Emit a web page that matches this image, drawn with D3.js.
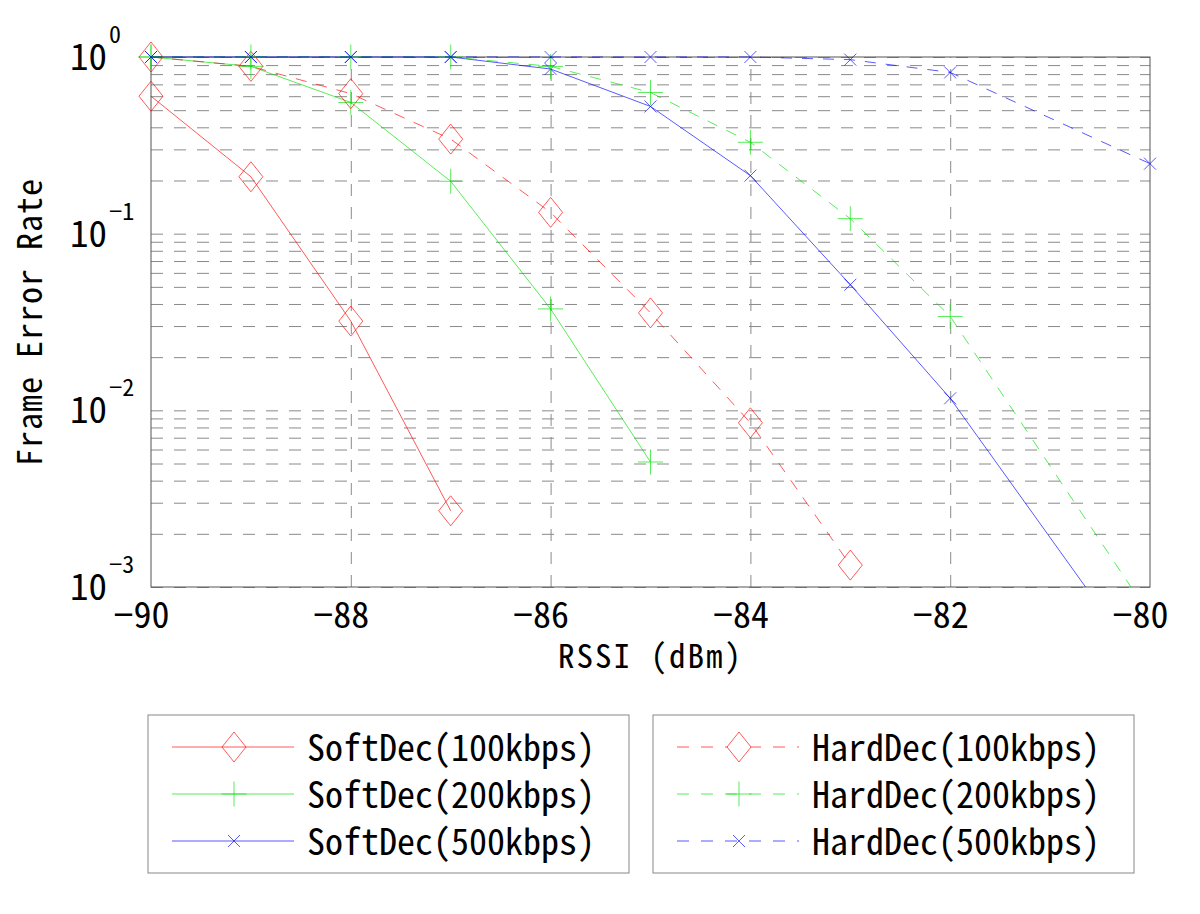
<!DOCTYPE html>
<html>
<head>
<meta charset="utf-8">
<script src="https://cdn.jsdelivr.net/npm/d3@7"></script>
<style>
  body { margin: 0; background: #fff; }
  svg text { font-family: "Noto Sans Mono CJK JP", "Noto Sans CJK JP", "DejaVu Sans", sans-serif; fill: #000; }
</style>
</head>
<body>
<svg id="chart" width="1200" height="914"></svg>
<script>
// data (FER vs RSSI)
const rssiSoft100 = [-90, -89, -88, -87]
const softDec100 = [0.6, 0.21, 0.032, 0.0027]

const rssiSoft200 = [-90, -89, -88, -87, -86, -85]
const softDec200 = [1.0, 0.885, 0.553, 0.198, 0.0375, 0.0051]

const rssiSoft500 = [-90, -89, -88, -87, -86, -85, -84, -83, -82, -80]
const softDec500 = [1.0, 1.0, 1.0, 1.0, 0.855, 0.525, 0.213, 0.0514, 0.0117, 0.00031]

const rssiHard100 = [-90, -89, -88, -87, -86, -85, -84, -83]
const hardDec100 = [1.0, 0.885, 0.62, 0.343, 0.132, 0.0356, 0.0085, 0.00133]

const rssiHard200 = [-90, -89, -88, -87, -86, -85, -84, -83, -82, -80]
const hardDec200 = [1.0, 1.0, 1.0, 1.0, 0.885, 0.63, 0.329, 0.1216, 0.034, 0.00069]

const rssiHard500 = [-90, -89, -88, -87, -86, -85, -84, -83, -82, -80]
const hardDec500 = [1.0, 1.0, 1.0, 1.0, 1.0, 1.0, 1.0, 0.966, 0.818, 0.249]

const xTicks = [-90, -88, -86, -84, -82, -80]
const yExponents = [0, -1, -2, -3]

const seriesNames = ["SoftDec(100kbps)", "SoftDec(200kbps)", "SoftDec(500kbps)",
                     "HardDec(100kbps)", "HardDec(200kbps)", "HardDec(500kbps)"]

// build series table
const colors = ["#ff0000", "#00e000", "#0000ff"]
const markers = ["diamond", "plus", "cross"]
const series = [
  { x: rssiSoft100, y: softDec100 },
  { x: rssiSoft200, y: softDec200 },
  { x: rssiSoft500, y: softDec500 },
  { x: rssiHard100, y: hardDec100 },
  { x: rssiHard200, y: hardDec200 },
  { x: rssiHard500, y: hardDec500 }
].map((s, i) => ({
  name: seriesNames[i],
  color: colors[i % 3],
  marker: markers[i % 3],
  dashed: i >= 3,
  points: s.x.map((v, j) => ({ x: v, y: s.y[j] }))
}))

const margin = { left: 151, right: 50, top: 57, bottom: 327 }
const width = 1200 - margin.left - margin.right
const height = 914 - margin.top - margin.bottom

const svg = d3.select("#chart")
const g = svg.append("g").attr("transform", `translate(${margin.left},${margin.top})`)

const x = d3.scaleLinear().domain([-90, -80]).range([0, width])
const y = d3.scaleLog().domain([1e-3, 1]).range([height, 0])

// grid
const minorVals = []
yExponents.forEach(e => { for (let k = 1; k <= 9; k++) { const v = k * Math.pow(10, e); if (v <= 1 && v >= 1e-3) minorVals.push(v) } })

g.append("g")
  .attr("class", "grid")
  .call(d3.axisLeft(y).tickValues(minorVals).tickSize(-width).tickFormat(""))
  .call(a => a.select(".domain").remove())
  .selectAll("line")
  .attr("stroke", "#8a8a8a")
  .attr("stroke-dasharray", "12,11")

g.append("g")
  .attr("class", "grid")
  .attr("transform", `translate(0,${height})`)
  .call(d3.axisBottom(x).tickValues(xTicks.slice(1, -1)).tickSize(-height).tickFormat(""))
  .call(a => a.select(".domain").remove())
  .selectAll("line")
  .attr("stroke", "#8a8a8a")
  .attr("stroke-dasharray", "12,11")

// box
g.append("rect")
  .attr("width", width).attr("height", height)
  .attr("fill", "none").attr("stroke", "#555")

// x tick labels
g.append("g")
  .attr("transform", `translate(0,${height})`)
  .call(d3.axisBottom(x).tickValues(xTicks).tickSize(0).tickFormat(d => "\u2212" + Math.abs(d)))
  .call(a => a.select(".domain").remove())
  .selectAll("text")
  .attr("y", 41).attr("dy", null).attr("dx", -10)
  .style("font-size", "36px")

// y tick labels as 10^n
const yLab = g.append("g").selectAll("g").data(yExponents).join("g")
  .attr("transform", d => `translate(0,${y(Math.pow(10, d))})`)
yLab.append("text")
  .attr("x", -44).attr("y", 13)
  .attr("text-anchor", "end")
  .style("font-size", "37px")
  .text("10")
yLab.append("text")
  .attr("x", -42).attr("y", -14)
  .style("font-size", "24px")
  .text(d => d === 0 ? "0" : "\u2212" + Math.abs(d))

// axis titles
svg.append("text")
  .attr("x", margin.left + width / 2).attr("y", 668)
  .attr("text-anchor", "middle")
  .style("font-size", "33px")
  .style("letter-spacing", "2px")
  .text("RSSI (dBm)")

svg.append("text")
  .attr("transform", `translate(42,${margin.top + height / 2}) rotate(-90)`)
  .attr("text-anchor", "middle")
  .style("font-size", "34px")
  .style("letter-spacing", "1px")
  .text("Frame Error Rate")

// clip lines to the plot (leave room above for values at 1)
svg.append("defs").append("clipPath").attr("id", "plotClip")
  .append("rect").attr("x", -5).attr("y", -5).attr("width", width + 10).attr("height", height + 5)

const symbolPath = {
  diamond: "M0,-15L12,0L0,15L-12,0Z",
  plus: "M-12.5,0H12.5M0,-12.5V12.5",
  cross: "M-6,-6L6,6M-6,6L6,-6"
}

const line = d3.line().x(d => x(d.x)).y(d => y(d.y))

const plot = g.append("g")
series.forEach(s => {
  plot.append("path")
    .datum(s.points)
    .attr("clip-path", "url(#plotClip)")
    .attr("fill", "none")
    .attr("stroke", s.color)
    .attr("stroke-opacity", 0.65)
    .attr("stroke-width", 1)
    .attr("stroke-dasharray", s.dashed ? "11,10" : null)
    .attr("d", line)

  plot.append("g").selectAll("path")
    .data(s.points.filter(p => p.y >= 1e-3))
    .join("path")
    .attr("transform", p => `translate(${x(p.x)},${y(p.y)})`)
    .attr("d", symbolPath[s.marker])
    .attr("fill", "none")
    .attr("stroke", s.color)
    .attr("stroke-opacity", 0.65)
    .attr("stroke-width", 1)
})

// legends: two boxes, soft on left, hard on right
const legendBoxes = [
  { x: 148, items: series.slice(0, 3) },
  { x: 653, items: series.slice(3) }
]
legendBoxes.forEach(box => {
  const lg = svg.append("g").attr("transform", `translate(${box.x},715)`)
  lg.append("rect")
    .attr("width", 481).attr("height", 158)
    .attr("fill", "#fff").attr("stroke", "#888")
  const row = lg.selectAll("g.row").data(box.items).join("g")
    .attr("class", "row")
    .attr("transform", (d, i) => `translate(0,${32 + i * 47})`)
  row.append("line")
    .attr("x1", 24).attr("x2", 146)
    .attr("stroke", d => d.color).attr("stroke-opacity", 0.65)
    .attr("stroke-dasharray", d => d.dashed ? "12,12" : null)
  row.append("path")
    .attr("transform", "translate(86,0)")
    .attr("d", d => symbolPath[d.marker])
    .attr("fill", d => d.dashed ? "#fff" : "none")
    .attr("stroke", d => d.color).attr("stroke-opacity", 0.65)
  row.append("text")
    .attr("x", 159).attr("y", 14)
    .style("font-size", "36px")
    .text(d => d.name)
})
</script>
</body>
</html>
